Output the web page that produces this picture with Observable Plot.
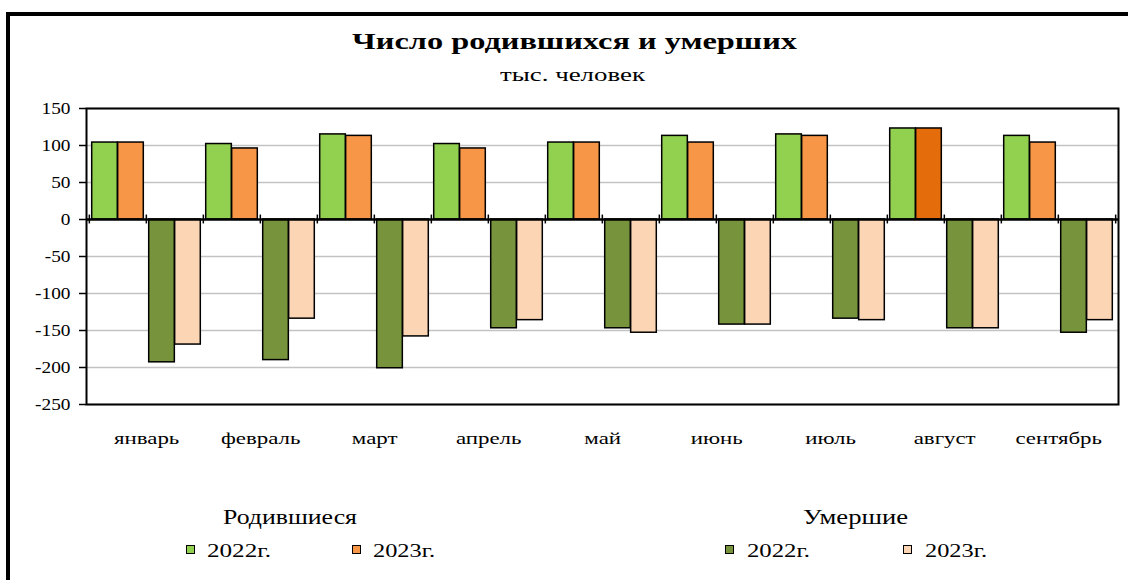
<!DOCTYPE html>
<html><head><meta charset="utf-8">
<script src="https://cdn.jsdelivr.net/npm/d3@7"></script>
<script src="https://cdn.jsdelivr.net/npm/@observablehq/plot@0.6"></script>
<style>
html,body{margin:0;padding:0;background:#fff;}
#root{position:relative;width:1128px;height:580px;overflow:hidden;font-family:"Liberation Serif",Tinos,"Times New Roman","DejaVu Serif",serif;color:#000;}
#frame{position:absolute;left:6px;top:12px;width:1300px;height:800px;border:4px solid #000;box-sizing:border-box;}
.t{position:absolute;white-space:nowrap;line-height:1;transform-origin:left top;}
.sw{position:absolute;width:7px;height:7px;border:1.5px solid #000;}
#chart{position:absolute;left:0;top:90px;}
#chart text{font-family:"Liberation Serif",Tinos,"Times New Roman","DejaVu Serif",serif !important;font-variant:normal !important;}
</style></head>
<body>
<div id="root">
  <div id="frame"></div>
  <div class="t fit" data-w="445" style="left:352px;top:29px;font-size:24px;font-weight:bold;">Число родившихся и умерших</div>
  <div class="t fit" data-w="145" style="left:500px;top:65px;font-size:19px;">тыс. человек</div>
  <div id="chart"></div>
  <div class="t fit" data-w="134" style="left:223px;top:507px;font-size:20px;">Родившиеся</div>
  <div class="t fit" data-w="105" style="left:803px;top:507px;font-size:20px;">Умершие</div>
  <div class="sw" style="left:186px;top:545px;background:#92D050;"></div>
  <div class="t fit" data-w="64" style="left:207px;top:541px;font-size:19px;">2022г.</div>
  <div class="sw" style="left:352px;top:545px;background:#F79646;"></div>
  <div class="t fit" data-w="62" style="left:373px;top:541px;font-size:19px;">2023г.</div>
  <div class="sw" style="left:725px;top:545px;background:#77933C;"></div>
  <div class="t fit" data-w="63" style="left:747px;top:541px;font-size:19px;">2022г.</div>
  <div class="sw" style="left:903px;top:545px;background:#FCD5B5;"></div>
  <div class="t fit" data-w="62" style="left:925px;top:541px;font-size:19px;">2023г.</div>
</div>
<script>
const months = ["январь","февраль","март","апрель","май","июнь","июль","август","сентябрь"];
const births2022 = [104, 102, 115, 102, 104, 113, 115, 123, 113];
const births2023 = [104, 96, 113, 96, 104, 104, 113, 123, 104];
const deaths2022 = [-193, -190, -201, -147, -147, -142, -134, -147, -153];
const deaths2023 = [-169, -134, -158, -136, -153, -142, -136, -147, -136];
const yTicks = [-250, -200, -150, -100, -50, 0, 50, 100, 150];

const W = 1128, H = 380, ML = 86, MR = 10, MT = 18, MB = 66;
const BIRTH = "Родившиеся", DEATH = "Умершие";
const keys = months.flatMap(m => [m + "|" + BIRTH, m + "|" + DEATH]);
const bw = (W - ML - MR) / keys.length;
const gap = 2.7;
const SERIF = "Liberation Serif, Tinos, Times New Roman, DejaVu Serif, serif";

const rows = [];
months.forEach((m, i) => {
  rows.push({month: m, kind: BIRTH, year: "2022", key: m + "|" + BIRTH, value: births2022[i]});
  rows.push({month: m, kind: BIRTH, year: "2023", key: m + "|" + BIRTH, value: births2023[i]});
  rows.push({month: m, kind: DEATH, year: "2022", key: m + "|" + DEATH, value: deaths2022[i]});
  rows.push({month: m, kind: DEATH, year: "2023", key: m + "|" + DEATH, value: deaths2023[i]});
});
const palette = {};
palette[BIRTH + "2022"] = "#92D050";
palette[BIRTH + "2023"] = "#F79646";
palette[DEATH + "2022"] = "#77933C";
palette[DEATH + "2023"] = "#FCD5B5";
const fill = d => (d.kind === BIRTH && d.year === "2023" && d.month === "август") ? "#E46C0A" : palette[d.kind + d.year];

const chart = Plot.plot({
  width: W, height: H,
  marginLeft: ML, marginRight: MR, marginTop: MT, marginBottom: MB,
  x: {type: "band", domain: keys, padding: 0, axis: null},
  y: {domain: [-250, 150], axis: null},
  style: {fontFamily: SERIF, fontSize: "17px", color: "#000", background: "transparent"},
  marks: [
    Plot.ruleY(yTicks.filter(v => v !== 0), {stroke: "#c3c3c3", strokeWidth: 1.5}),
    Plot.barY(rows.filter(d => d.year === "2022"), {x: "key", y: "value", fill, stroke: "#000", strokeWidth: 1.5, insetLeft: gap, insetRight: bw / 2}),
    Plot.barY(rows.filter(d => d.year === "2023"), {x: "key", y: "value", fill, stroke: "#000", strokeWidth: 1.5, insetLeft: bw / 2, insetRight: gap}),
    Plot.ruleY([0], {stroke: "#000", strokeWidth: 2.5}),
    Plot.ruleX(keys, {x: d => d, y1: -6, y2: 6, dx: -bw / 2, stroke: "#000", strokeWidth: 1.5}),
    Plot.ruleX(keys.slice(-1), {x: d => d, y1: -6, y2: 6, dx: bw / 2, stroke: "#000", strokeWidth: 1.5}),
    Plot.frame({stroke: "#000", strokeWidth: 2}),
    Plot.axisY(yTicks, {tickSize: 7, tickPadding: 9, tickFormat: d => String(d), fontSize: 17, fontFamily: SERIF, label: null, strokeWidth: 1.5}),
    Plot.text(months, {x: m => m + "|" + BIRTH, dx: bw / 2, frameAnchor: "bottom", dy: 39, lineAnchor: "bottom", fontSize: 17, fontFamily: SERIF, fill: "#000", className: "m"})
  ]
});
document.getElementById("chart").appendChild(chart);

function stretch(t, s) {
  const x = (+(t.getAttribute("x") || 0)) + (parseFloat(t.getAttribute("dx")) || 0);
  const tr = t.getAttribute("transform") || "";
  t.setAttribute("transform", `${tr} translate(${x},0) scale(${s},1) translate(${-x},0)`);
}
function fitSvg() {
  const mTexts = [...chart.querySelectorAll("g.m text")];
  const total = mTexts.reduce((a, t) => a + t.getComputedTextLength(), 0);
  const sM = 544 / total;
  mTexts.forEach(t => stretch(t, sM));
  const yTexts = [...chart.querySelectorAll('[aria-label="y-axis tick label"] text')];
  const t150 = yTexts.find(t => t.textContent === "150");
  const sY = t150 ? 29 / t150.getComputedTextLength() : 1;
  yTexts.forEach(t => stretch(t, sY));
}
function fitAll() {
  document.querySelectorAll(".fit").forEach(el => {
    el.style.transform = "none";
    const w = el.getBoundingClientRect().width;
    el.style.transform = `scaleX(${(+el.dataset.w) / w})`;
  });
}
fitSvg();
fitAll();
if (document.fonts && document.fonts.ready) document.fonts.ready.then(fitAll);
</script>
</body></html>
